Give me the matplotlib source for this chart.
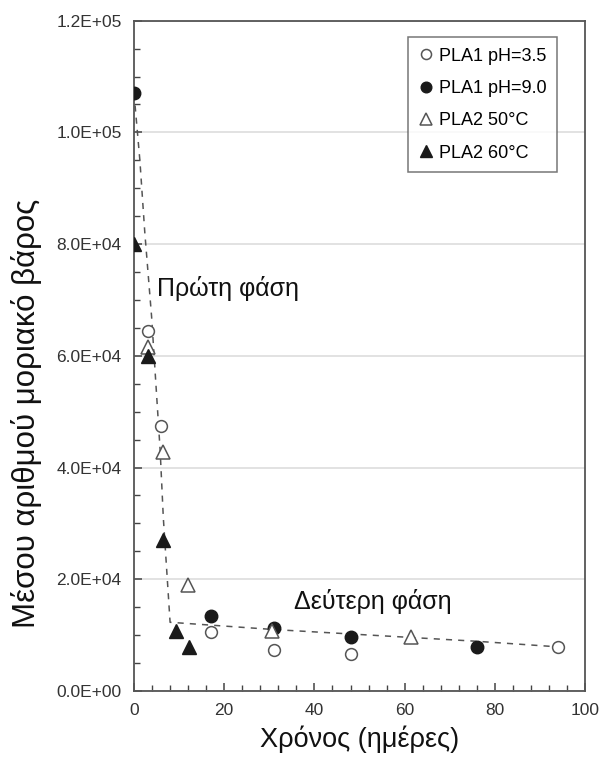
import matplotlib
matplotlib.use('Agg')
import matplotlib.pyplot as plt
from matplotlib.ticker import MultipleLocator, FuncFormatter

plt.rcParams['font.family'] = ['Liberation Sans', 'DejaVu Sans']

# PLA1 pH=3.5 (open circles)
days_ph35 = [3, 6, 17, 31, 48, 94]
mn_ph35 = [64500, 47500, 10500, 7300, 6600, 7900]

# PLA1 pH=9.0 (filled circles)
days_ph90 = [0, 17, 31, 48, 76]
mn_ph90 = [107000, 13400, 11300, 9600, 7800]

# PLA2 50°C (open triangles)
days_50c = [3, 6.5, 12, 30.5, 61.5]
mn_50c = [61500, 42800, 18900, 10700, 9700]

# PLA2 60°C (filled triangles)
days_60c = [0, 3, 6.5, 9.3, 12.3]
mn_60c = [80000, 60000, 27000, 10700, 7900]

# hand drawn trend line
trend_x = [0, 1.3, 2.4, 3.9, 5.8, 6.5, 8, 31, 76, 94]
trend_y = [107000, 95000, 82000, 67000, 43000, 31000, 12300, 11000, 8900, 7900]


def sci_fmt(v, pos):
    if v <= 0:
        return '0.0E+00'
    e = len(str(int(v))) - 1
    return '%.1fE+%02d' % (v / 10 ** e, e)


fig = plt.figure(figsize=(6.05, 7.57), dpi=100)
ax = fig.add_axes([0.2215, 0.0872, 0.7455, 0.8855])

ax.plot(trend_x, trend_y, linestyle=(0, (4, 4)), color='#555555', lw=1.1, zorder=1)

ax.plot(days_ph35, mn_ph35, 'o', ms=8.5, mfc='white', mec='#555555', mew=1.1,
        label='PLA1 pH=3.5', zorder=3)
ax.plot(days_ph90, mn_ph90, 'o', ms=9, mfc='#1a1a1a', mec='#1a1a1a',
        label='PLA1 pH=9.0', zorder=3)
ax.plot(days_50c, mn_50c, '^', ms=9.5, mfc='white', mec='#555555', mew=1.1,
        label='PLA2 50°C', zorder=3)
ax.plot(days_60c, mn_60c, '^', ms=9.5, mfc='#1a1a1a', mec='#1a1a1a',
        label='PLA2 60°C', zorder=3)

ax.set_xlim(0, 100)
ax.set_ylim(0, 120000)
ax.xaxis.set_major_locator(MultipleLocator(20))
ax.xaxis.set_minor_locator(MultipleLocator(4))
ax.yaxis.set_major_locator(MultipleLocator(20000))
ax.yaxis.set_minor_locator(MultipleLocator(5000))
ax.yaxis.set_major_formatter(FuncFormatter(sci_fmt))

ax.tick_params(which='both', direction='in', colors='#444444', labelsize=12.5,
               labelcolor='#333333', top=False, right=False)
ax.tick_params(which='major', length=6, width=1.1)
ax.tick_params(which='minor', length=4, width=1.0)
ax.tick_params(axis='x', pad=9)
ax.tick_params(axis='y', pad=9)

ax.grid(axis='y', which='major', color='#dddddd', lw=1.2)
ax.set_axisbelow(True)
for s in ax.spines.values():
    s.set_color('#555555')
    s.set_linewidth(1.3)

ax.text(5, 72000, 'Πρώτη φάση', fontsize=18, va='center', ha='left', color='#111111')
ax.text(35.5, 16000, 'Δεύτερη φάση', fontsize=18, va='center', ha='left', color='#111111')

ax.set_xlabel('Χρόνος (ημέρες)', fontsize=19.5, color='#111111', labelpad=5)
fig.text(27 / 605, 1 - 413 / 757, 'Μέσου αριθμού μοριακό βάρος', fontsize=22.5,
         rotation=90, ha='center', va='center', color='#111111')

leg = ax.legend(loc='upper right', bbox_to_anchor=(0.938, 0.976), fontsize=13,
                frameon=True, fancybox=False, edgecolor='#555555', handlelength=0.8,
                handletextpad=0.3, labelspacing=0.85, borderpad=0.6, borderaxespad=0,
                markerscale=0.85)
leg.get_frame().set_linewidth(1.1)

fig.savefig('out.png', dpi=100)
